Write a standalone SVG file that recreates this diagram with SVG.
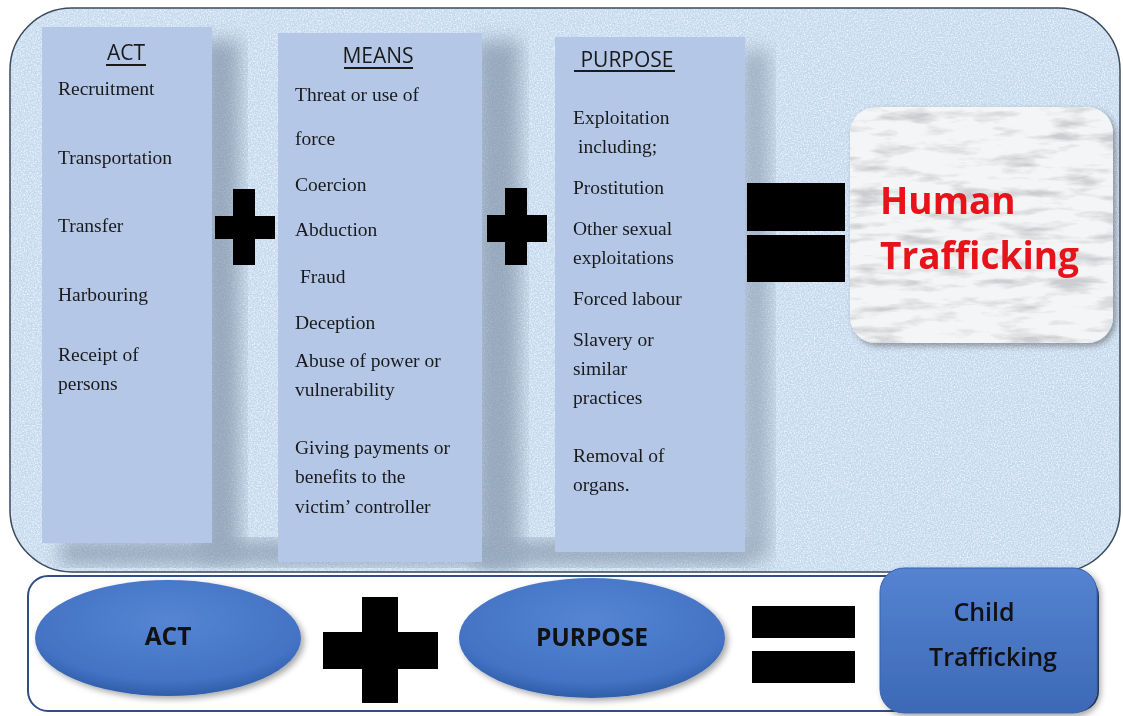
<svg xmlns="http://www.w3.org/2000/svg" width="1123" height="716" viewBox="0 0 1123 716">
<defs>
<style>
.col{fill:#b4c7e7;}
.it{font-family:"Liberation Serif","DejaVu Serif",serif;font-size:19.5px;fill:#1a1a1a;}
.hd{font-family:"Open Sans","Liberation Sans",sans-serif;font-size:21px;fill:#1a1a1a;text-anchor:middle;}
.blk{fill:#000;}
.bt{font-family:"Open Sans","Liberation Sans",sans-serif;font-weight:bold;font-size:24.5px;fill:#111;text-anchor:middle;}
.bt2{font-family:"Open Sans","Liberation Sans",sans-serif;font-weight:600;font-size:25px;fill:#111;text-anchor:middle;}
</style>
<filter id="tex" x="0" y="0" width="100%" height="100%">
<feTurbulence type="fractalNoise" baseFrequency="0.7" numOctaves="2" seed="3" result="n"/>
<feColorMatrix in="n" type="matrix" values="0 0 0 0 1  0 0 0 0 1  0 0 0 0 1  0 0 0 -2.2 1.35" result="w"/>
<feComposite in="w" in2="SourceGraphic" operator="in"/>
</filter>
<filter id="marble" x="0" y="0" width="100%" height="100%">
<feTurbulence type="fractalNoise" baseFrequency="0.02 0.09" numOctaves="4" seed="7" result="n"/>
<feColorMatrix in="n" type="matrix" values="0 0 0 0 0.6  0 0 0 0 0.61  0 0 0 0 0.63  0 0 0 -3 1.55" result="g"/>
<feComposite in="g" in2="SourceGraphic" operator="in"/>
</filter>
<filter id="sh" x="-20%" y="-10%" width="140%" height="120%">
<feGaussianBlur stdDeviation="9"/>
</filter>
<filter id="dsh" x="-10%" y="-10%" width="130%" height="130%">
<feDropShadow dx="3" dy="3" stdDeviation="3" flood-color="#000" flood-opacity="0.35"/>
</filter>
<radialGradient id="ell" cx="0.5" cy="0.35" r="0.65">
<stop offset="0" stop-color="#5585d3"/>
<stop offset="0.8" stop-color="#4472c4"/>
<stop offset="1" stop-color="#2f5ea8"/>
</radialGradient>
<linearGradient id="box" x1="0" y1="0" x2="0" y2="1">
<stop offset="0" stop-color="#5583d2"/>
<stop offset="1" stop-color="#3d69b6"/>
</linearGradient>
<clipPath id="panclip"><rect x="10" y="8" width="1110" height="564" rx="62"/></clipPath>
</defs>

<g id="top-panel">
<rect x="10" y="8" width="1110" height="564" rx="62" fill="#c5d9ee"/>
<rect x="10" y="8" width="1110" height="564" rx="62" fill="#ffffff" filter="url(#tex)" opacity="0.75"/>
<g clip-path="url(#panclip)" opacity="0.55">
<rect x="200" y="40" width="40" height="520" fill="#6b7f95" filter="url(#sh)"/>
<rect x="475" y="40" width="45" height="530" fill="#6b7f95" filter="url(#sh)"/>
<rect x="740" y="50" width="30" height="510" fill="#8092a6" filter="url(#sh)"/>
<rect x="60" y="540" width="690" height="25" fill="#6b7f95" filter="url(#sh)"/>
</g>
<rect x="10" y="8" width="1110" height="564" rx="62" fill="none" stroke="#3b4a5c" stroke-width="1.5"/>
</g>

<g id="act-col">
<rect class="col" x="42" y="27" width="170" height="516"/>
<text class="hd" x="126" y="60">ACT</text>
<rect x="106" y="64" width="40" height="2" fill="#1a1a1a"/>
<text class="it" x="58" y="95">Recruitment</text>
<text class="it" x="58" y="164">Transportation</text>
<text class="it" x="58" y="232">Transfer</text>
<text class="it" x="58" y="301">Harbouring</text>
<text class="it" x="58" y="361">Receipt of</text>
<text class="it" x="58" y="390">persons</text>
</g>

<g id="means-col">
<rect class="col" x="278" y="33" width="204" height="529"/>
<text class="hd" x="378" y="63">MEANS</text>
<rect x="344" y="67" width="69" height="2" fill="#1a1a1a"/>
<text class="it" x="295" y="101">Threat or use of</text>
<text class="it" x="295" y="145">force</text>
<text class="it" x="295" y="191">Coercion</text>
<text class="it" x="295" y="236">Abduction</text>
<text class="it" x="300" y="283">Fraud</text>
<text class="it" x="295" y="329">Deception</text>
<text class="it" x="295" y="367">Abuse of power or</text>
<text class="it" x="295" y="396">vulnerability</text>
<text class="it" x="295" y="454">Giving payments or</text>
<text class="it" x="295" y="483">benefits to the</text>
<text class="it" x="295" y="513">victim’ controller</text>
</g>

<g id="purpose-col">
<rect class="col" x="555" y="37" width="190" height="515"/>
<text class="hd" x="627" y="67">PURPOSE</text>
<rect x="574" y="70" width="101" height="2" fill="#1a1a1a"/>
<text class="it" x="573" y="124">Exploitation</text>
<text class="it" x="578" y="153">including;</text>
<text class="it" x="573" y="194">Prostitution</text>
<text class="it" x="573" y="235">Other sexual</text>
<text class="it" x="573" y="264">exploitations</text>
<text class="it" x="573" y="305">Forced labour</text>
<text class="it" x="573" y="346">Slavery or</text>
<text class="it" x="573" y="375">similar</text>
<text class="it" x="573" y="404">practices</text>
<text class="it" x="573" y="462">Removal of</text>
<text class="it" x="573" y="491">organs.</text>
</g>

<g id="operators-top">
<rect class="blk" x="233" y="189" width="22" height="76"/>
<rect class="blk" x="215" y="216" width="60" height="23"/>
<rect class="blk" x="505" y="188" width="22" height="77"/>
<rect class="blk" x="487" y="215" width="60" height="27"/>
<rect class="blk" x="747" y="183" width="98" height="48"/>
<rect class="blk" x="747" y="235" width="98" height="47"/>
</g>

<g id="human-trafficking">
<rect x="850" y="107" width="263" height="236" rx="26" fill="#f4f5f6" filter="url(#dsh)"/>
<rect x="850" y="107" width="263" height="236" rx="26" fill="#f4f5f6" filter="url(#marble)"/>
<text x="880" y="214" font-family="Open Sans,Liberation Sans,sans-serif" font-weight="bold" font-size="37" fill="#e8121b">Human</text>
<text x="880" y="269" font-family="Open Sans,Liberation Sans,sans-serif" font-weight="bold" font-size="37" fill="#e8121b">Trafficking</text>
</g>

<g id="bottom-panel">
<rect x="28" y="576" width="1070" height="135" rx="20" fill="#ffffff" stroke="#2f4f84" stroke-width="2"/>
</g>

<g id="act-ellipse">
<ellipse cx="168" cy="638" rx="133" ry="58" fill="url(#ell)" filter="url(#dsh)"/>
<text class="bt" x="168" y="645">ACT</text>
</g>

<g id="operators-bottom">
<rect class="blk" x="362" y="597" width="36" height="106"/>
<rect class="blk" x="323" y="632" width="115" height="37"/>
<rect class="blk" x="752" y="606" width="103" height="32"/>
<rect class="blk" x="752" y="651" width="103" height="32"/>
</g>

<g id="purpose-ellipse">
<ellipse cx="592" cy="638" rx="133" ry="60" fill="url(#ell)" filter="url(#dsh)"/>
<text class="bt" x="592" y="646">PURPOSE</text>
</g>

<g id="child-trafficking">
<rect x="880" y="568" width="217" height="145" rx="24" fill="url(#box)" stroke="#3a62a8" stroke-width="1" filter="url(#dsh)"/>
<text class="bt2" x="984" y="621">Child</text>
<text class="bt2" x="993" y="666">Trafficking</text>
</g>

<g id="connectors"/>
</svg>
